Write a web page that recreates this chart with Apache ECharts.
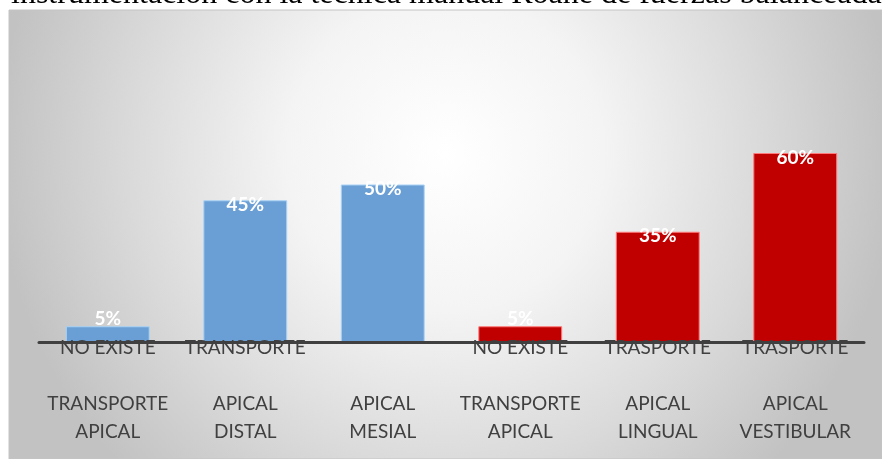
<!DOCTYPE html>
<html><head><meta charset="utf-8">
<script src="https://cdn.jsdelivr.net/npm/echarts@6/dist/echarts.min.js"></script>
<style>html,body{margin:0;padding:0;background:#fff}#c{width:882px;height:459px}</style>
</head><body><div id="c"></div>
<script>
const titleText = "instrumentación con la técnica manual Roane de fuerzas balanceadas";
const categories = [
  "NO EXISTE\n \nTRANSPORTE\nAPICAL",
  "TRANSPORTE\n \nAPICAL\nDISTAL",
  " \n \nAPICAL\nMESIAL",
  "NO EXISTE\n \nTRANSPORTE\nAPICAL",
  "TRASPORTE\n \nAPICAL\nLINGUAL",
  "TRASPORTE\n \nAPICAL\nVESTIBULAR"
];
const values = [5, 45, 50, 5, 35, 60];
const barColors = ["#6a9fd5", "#6a9fd5", "#6a9fd5", "#c00000", "#c00000", "#c00000"];
const borderColors = ["#a9d2f6", "#a9d2f6", "#a9d2f6", "#ff7a7a", "#ff7a7a", "#ff7a7a"];

const chart = echarts.init(document.getElementById('c'));
chart.setOption({
  animation: false,
  graphic: [
    { type: 'text', z: 1, x: 11, y: 11,
      style: { text: titleText, font: '32px "Liberation Serif"', fill: '#000', verticalAlign: 'bottom' } },
    { type: 'rect', z: 2, shape: { x: 9, y: 10, width: 873, height: 449 },
      style: { fill: { type: 'radial', x: 0.5, y: 0.32, r: 1.0,
        colorStops: [{ offset: 0, color: '#ffffff' }, { offset: 0.35, color: '#f4f4f4' }, { offset: 0.7, color: '#dadada' }, { offset: 1, color: '#c2c2c2' }] },
        stroke: '#c4c4c4', lineWidth: 1 } }
  ],
  grid: { left: 39, right: 18, top: 90, bottom: 117 },
  xAxis: {
    type: 'category',
    data: categories.map((c, i) => 'c' + i),
    axisLine: { lineStyle: { color: '#404040', width: 3 } },
    axisTick: { show: false },
    axisLabel: {
      interval: 0, margin: -8,
      formatter: (v, i) => categories[i],
      fontFamily: 'Lato', fontSize: 19, color: '#404040', lineHeight: 28
    },
    z: 5
  },
  yAxis: { type: 'value', min: 0, max: 80, show: false, splitLine: { show: false } },
  series: [{
    type: 'bar',
    barWidth: '61%',
    data: values.map((v, i) => ({
      value: v,
      itemStyle: { color: barColors[i], borderColor: borderColors[i], borderWidth: 1 },
      label: v < 10 ? { position: 'top', distance: -2 } : undefined
    })),
    label: {
      show: true, position: 'insideTop', distance: -5,
      formatter: p => p.value + '%',
      color: '#fff', fontFamily: 'Lato', fontWeight: 'bold', fontSize: 19
    },
    z: 2
  }]
});
</script></body></html>
